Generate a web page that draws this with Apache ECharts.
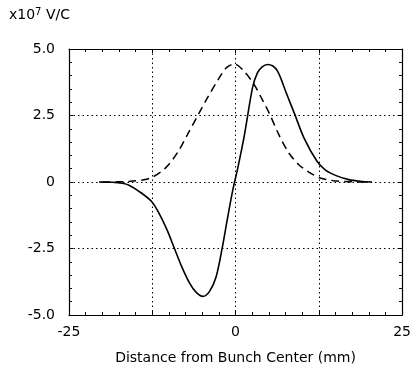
<!DOCTYPE html>
<html>
<head>
<meta charset="utf-8">
<script src="https://cdn.jsdelivr.net/npm/echarts@6/dist/echarts.min.js"></script>
<style>
  html, body { margin: 0; padding: 0; background: #fff; }
</style>
</head>
<body>
<div id="chart" style="width: 414px; height: 370px;"></div>
<script>
// wake (solid) and bunch shape (dashed)
const wakeX = [-20.5, -18.5, -17, -16, -14.5, -12.6, -11.5, -10.3, -9.2, -8.1, -6.9, -5.9, -4.9, -3.9, -2.9, -2, -1.25, -0.4, 0.35, 1.35, 2.55, 3.3, 4, 4.8, 5.6, 6.3, 6.9, 7.5, 8.85, 10.25, 12.2, 13.5, 15.2, 17, 18.7, 20.5]
const wakeY = [0, -0.01, -0.05, -0.12, -0.35, -0.73, -1.17, -1.79, -2.48, -3.17, -3.8, -4.15, -4.3, -4.11, -3.55, -2.48, -1.42, -0.29, 0.54, 1.79, 3.55, 4.11, 4.33, 4.42, 4.36, 4.17, 3.83, 3.42, 2.57, 1.67, 0.79, 0.45, 0.23, 0.09, 0.03, 0]
const bunchX = [-20, -16, -12.8, -10.5, -8.6, -7.1, -5.6, -4.1, -2.6, -1.4, -0.2, 1.3, 2.8, 3.9, 5.05, 6.5, 8, 9.5, 11.2, 12.7, 14.7, 17, 20]
const bunchY = [0, 0.02, 0.15, 0.53, 1.15, 1.84, 2.53, 3.22, 3.85, 4.29, 4.44, 4.16, 3.66, 3.15, 2.59, 1.78, 1.09, 0.65, 0.34, 0.15, 0.05, 0.01, 0]
const xTicks = [-25, 0, 25]

const pairs = (xs, ys) => xs.map((x, i) => [x, ys[i]])
const font = 'DejaVu Sans'

const chart = echarts.init(document.getElementById('chart'))

const frameAxis = {
  axisLine: { show: true, onZero: false, lineStyle: { color: '#000', width: 1.2 } },
  axisTick: { show: true, inside: true, length: 4, lineStyle: { color: '#000' } },
  minorTick: { show: true, splitNumber: 5, length: 3, lineStyle: { color: '#000' } }
}

chart.setOption({
  animation: false,
  grid: { left: 69, right: 8, top: 49, bottom: 55 },
  graphic: [{
    type: 'text',
    left: 9,
    top: 7,
    style: {
      text: 'x10{sup|7} V/C',
      font: '14px "DejaVu Sans"',
      fill: '#000',
      rich: {
        sup: { fontSize: 10, verticalAlign: 'top', padding: [0, 0, 6, 0], fontFamily: font }
      }
    }
  }],
  xAxis: [
    Object.assign({
      type: 'value',
      position: 'bottom',
      min: -25,
      max: 25,
      interval: 12.5,
      name: 'Distance from Bunch Center (mm)',
      nameLocation: 'middle',
      nameGap: 36,
      nameTextStyle: { fontFamily: font, fontSize: 14, color: '#000' },
      axisLabel: {
        fontFamily: font, fontSize: 14, color: '#000', margin: 10,
        formatter: v => xTicks.indexOf(v) >= 0 ? String(v) : ''
      },
      splitLine: { show: true, lineStyle: { color: '#000', type: [1.5, 3], width: 1 } }
    }, frameAxis),
    Object.assign({
      type: 'value',
      position: 'top',
      min: -25,
      max: 25,
      interval: 12.5,
      axisLabel: { show: false },
      splitLine: { show: false }
    }, frameAxis)
  ],
  yAxis: [
    Object.assign({
      type: 'value',
      position: 'left',
      min: -5,
      max: 5,
      interval: 2.5,
      axisLabel: {
        fontFamily: font, fontSize: 14, color: '#000', margin: 14,
        formatter: v => v === 0 ? '0' : v.toFixed(1)
      },
      splitLine: { show: true, lineStyle: { color: '#000', type: [1.5, 3], width: 1 } }
    }, frameAxis),
    Object.assign({
      type: 'value',
      position: 'right',
      min: -5,
      max: 5,
      interval: 2.5,
      axisLabel: { show: false },
      splitLine: { show: false }
    }, frameAxis)
  ],
  series: [
    {
      type: 'line',
      data: pairs(bunchX, bunchY),
      smooth: 0.3,
      showSymbol: false,
      lineStyle: { color: '#000', width: 1.5, type: [8, 5] }
    },
    {
      type: 'line',
      data: pairs(wakeX, wakeY),
      smooth: 0.3,
      showSymbol: false,
      lineStyle: { color: '#000', width: 1.6 }
    }
  ]
})
</script>
</body>
</html>
